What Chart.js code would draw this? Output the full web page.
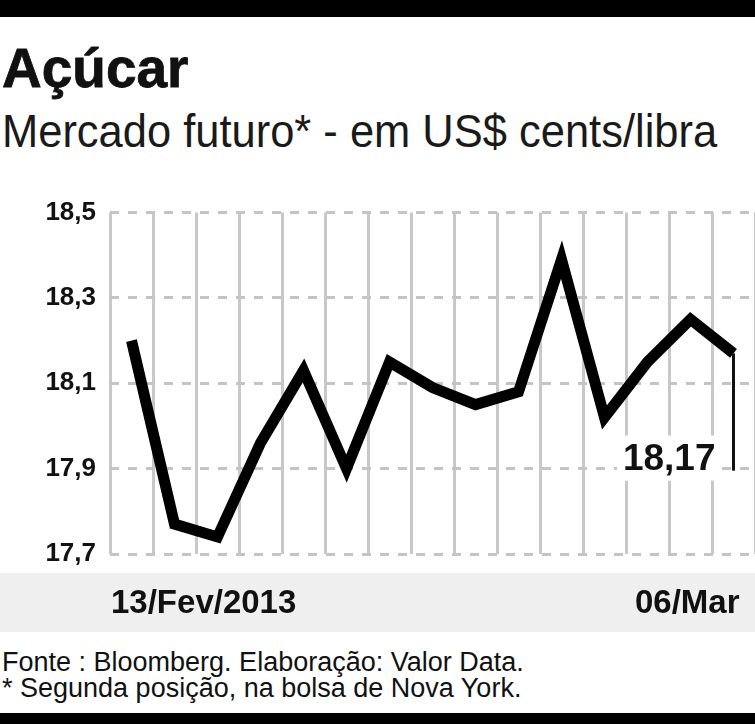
<!DOCTYPE html>
<html>
<head>
<meta charset="utf-8">
<script src="https://cdn.jsdelivr.net/npm/chart.js@4/dist/chart.umd.min.js"></script>
<style>
  html, body { margin: 0; padding: 0; background: #fff; }
  body { width: 755px; height: 724px; position: relative; overflow: hidden; font-family: "Liberation Sans", sans-serif; color: #111; }
  .bar { position: absolute; left: 0; width: 755px; background: #000; }
  #title { position: absolute; left: 2px; top: 38px; font-weight: bold; font-size: 55px; line-height: 1.117; -webkit-text-stroke: 0.8px #111; white-space: nowrap; }
  #subtitle { position: absolute; left: 2px; top: 106px; font-size: 46px; line-height: 1.117; color: #1a1a1a; white-space: nowrap; transform: scaleX(0.945); transform-origin: 0 0; }
  #chart { position: absolute; left: 0; top: 183px; }
  #footer { position: absolute; left: 2px; top: 649px; font-size: 27px; line-height: 26px; color: #111; white-space: nowrap; }
</style>
</head>
<body>
<div class="bar" style="top:0;height:17px"></div>
<div id="title">Açúcar</div>
<div id="subtitle">Mercado futuro* - em US$ cents/libra</div>
<canvas id="chart" width="755" height="457"></canvas>
<div id="footer">Fonte : Bloomberg. Elaboração: Valor Data.<br>* Segunda posição, na bolsa de Nova York.</div>
<div class="bar" style="top:713px;height:11px"></div>

<script>
// trading days, 13/Fev/2013 to 06/Mar/2013
const days = ["13/02", "14/02", "15/02", "19/02", "20/02", "21/02", "22/02", "25/02",
  "26/02", "27/02", "28/02", "01/03", "04/03", "05/03", "06/03"];
const prices = [18.20, 17.77, 17.74, 17.96, 18.13, 17.90, 18.15, 18.09,
  18.05, 18.08, 18.39, 18.02, 18.15, 18.25, 18.17];
const yTicks = [17.7, 17.9, 18.1, 18.3, 18.5];
const dateLabels = ["13/Fev/2013", "06/Mar"];

const fmt = v => v.toFixed(1).replace(".", ",");

// gray date band under the plot
const dateBand = {
  id: "dateBand",
  afterDraw(chart) {
    const { ctx, chartArea } = chart;
    const top = chartArea.bottom + 19;
    ctx.save();
    ctx.fillStyle = "#efefef";
    ctx.fillRect(0, top, chart.width, 59);
    ctx.fillStyle = "#111";
    ctx.font = "bold 33px 'Liberation Sans'";
    ctx.textBaseline = "alphabetic";
    ctx.textAlign = "left";
    ctx.fillText(dateLabels[0], chartArea.left + 1, top + 40);
    ctx.fillText(dateLabels[1], chartArea.right - 120, top + 40);
    ctx.restore();
  }
};

// last value callout
const lastValue = {
  id: "lastValue",
  afterDatasetsDraw(chart) {
    const { ctx } = chart;
    const pt = chart.getDatasetMeta(0).data[prices.length - 1];
    const y = chart.scales.y;
    const base = y.getPixelForValue(yTicks[1]);
    const txt = prices[prices.length - 1].toFixed(2).replace(".", ",");
    ctx.save();
    ctx.font = "bold 37px 'Liberation Sans'";
    const w = ctx.measureText(txt).width;
    ctx.fillStyle = "#fff";
    ctx.fillRect(pt.x - 18 - w - 6, base - 33, w + 12, 45);
    ctx.fillStyle = "#111";
    ctx.textAlign = "right";
    ctx.textBaseline = "alphabetic";
    ctx.fillText(txt, pt.x - 18, base + 1);
    ctx.strokeStyle = "#111";
    ctx.lineWidth = 3;
    ctx.beginPath();
    ctx.moveTo(pt.x, pt.y);
    ctx.lineTo(pt.x, base + 2);
    ctx.stroke();
    ctx.restore();
  }
};

new Chart(document.getElementById("chart"), {
  type: "line",
  data: {
    labels: days,
    datasets: [{
      data: prices,
      borderColor: "#000",
      borderWidth: 11,
      borderJoinStyle: "miter",
      pointRadius: 0,
      tension: 0,
      fill: false
    }]
  },
  options: {
    responsive: false,
    animation: false,
    devicePixelRatio: 1,
    layout: { padding: { top: 14, right: 0, left: 0, bottom: 0 } },
    plugins: { legend: { display: false }, tooltip: { enabled: false } },
    scales: {
      x: {
        offset: true,
        grid: { offset: true, color: "#c8c8c8", lineWidth: 3, drawTicks: false },
        border: { display: false },
        ticks: { display: false },
        afterFit: s => { s.height = 86; }
      },
      y: {
        min: yTicks[0],
        max: yTicks[yTicks.length - 1],
        afterBuildTicks: s => { s.ticks = yTicks.map(v => ({ value: v })); },
        grid: { color: "#c4c4c4", lineWidth: 3, drawTicks: false },
        border: { display: false, dash: [9, 9] },
        ticks: {
          callback: v => fmt(v),
          color: "#111",
          padding: 14,
          font: { family: "'Liberation Sans'", weight: "bold", size: 26 }
        },
        afterFit: s => { s.width = 110; }
      }
    }
  },
  plugins: [dateBand, lastValue]
});
</script>
</body>
</html>
